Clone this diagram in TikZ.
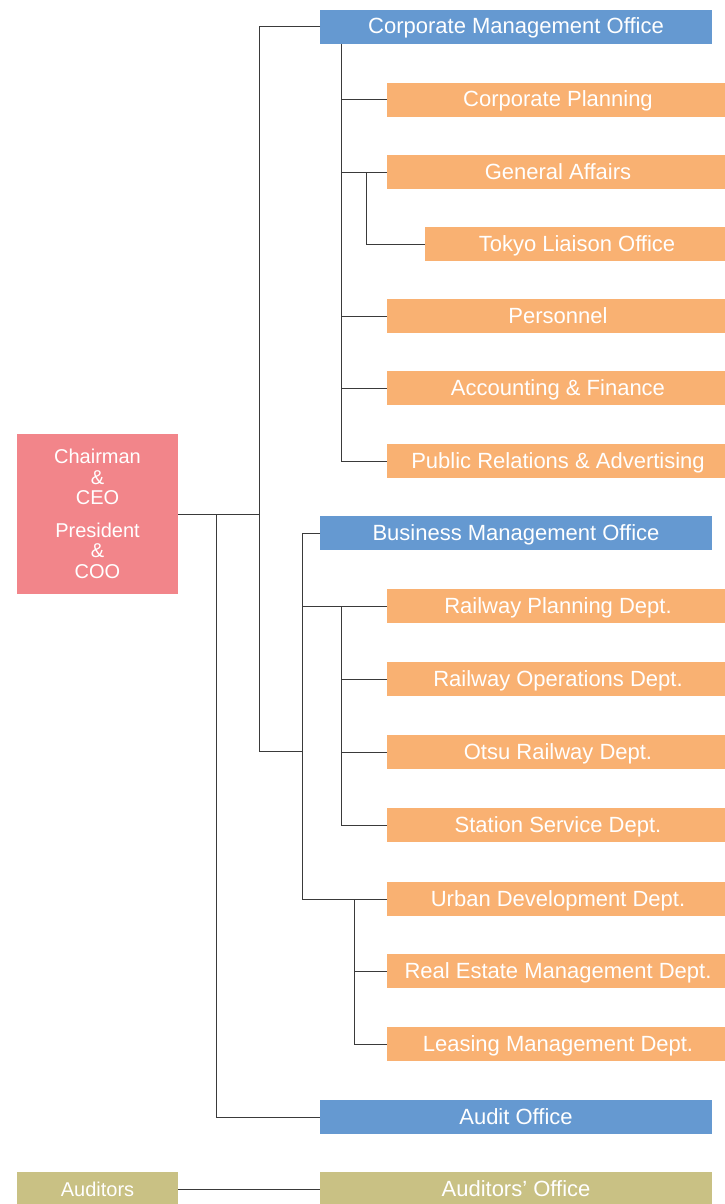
\documentclass[tikz,border=0pt]{standalone}
\usepackage{fontspec}
\setmainfont{Liberation Sans}
\definecolor{officeblue}{HTML}{6599D1}
\definecolor{deptorange}{HTML}{F9B172}
\definecolor{headpink}{HTML}{F2858A}
\definecolor{auditolive}{HTML}{C9C184}
\definecolor{linegray}{HTML}{3A3A3A}
\tikzset{
  office/.style={fill=officeblue, text=white, inner sep=0pt, outer sep=0pt,
    minimum width=392pt, minimum height=34pt, text height=16pt, text depth=2pt,
    font=\fontsize{22}{26}\selectfont},
  dept/.style={office, fill=deptorange, minimum width=342pt},
  subdept/.style={dept, minimum width=304pt},
  audit/.style={office, fill=auditolive},
  link/.style={draw=linegray, line width=1pt}
}
\begin{document}
\begin{tikzpicture}[x=1pt,y=-1pt]
		    	\useasboundingbox (0,0) rectangle (725,1204);
		    	\node[fill=headpink, text=white, inner sep=0pt, minimum width=161pt, minimum height=160pt, align=center, font=\fontsize{20}{20.5}\selectfont] (CH) at (97.5,514) {Chairman\\\&\\CEO\\[12pt]President\\\&\\COO};
		    	\node[audit, minimum width=161pt, font=\fontsize{20}{24}\selectfont] (AU) at (97.5,1189) {Auditors};
		    	
		    	\node[office] (CMO) at (516,27) {Corporate Management Office};
		    	\node[dept] (CP) at (558,100) {Corporate Planning};
		    	\node[dept] (GA) at (558,172) {General Affairs};
		    	\node[subdept] (TL) at (577,244) {Tokyo Liaison Office};
		    	\node[dept] (PE) at (558,316) {Personnel};
		    	\node[dept] (AF) at (558,388) {Accounting \& Finance};
		    	\node[dept] (PR) at (558,461) {Public Relations \& Advertising};
		    	
		    	\node[office] (BMO) at (516,533) {Business Management Office};
		    	\node[dept] (RP) at (558,606) {Railway Planning Dept.};
		    	\node[dept] (RO) at (558,679) {Railway Operations Dept.};
		    	\node[dept] (OR) at (558,752) {Otsu Railway Dept.};
		    	\node[dept] (SS) at (558,825) {Station Service Dept.};
		    	\node[dept] (UD) at (558,899) {Urban Development Dept.};
		    	\node[dept] (RE) at (558,971) {Real Estate Management Dept.};
		    	\node[dept] (LM) at (558,1044) {Leasing Management Dept.};
		    	
		    	\node[office] (AO) at (516,1117) {Audit Office};
		    	\node[audit] (AUO) at (516,1189) {Auditors' Office};
		    	
		    	% junctions
		    	\coordinate (J1) at (259,514);
		    	\coordinate (J2) at (259,751);
		    	\coordinate (J3) at (302,751);
		    	\coordinate (JA) at (216,514);
		    	\coordinate (C0) at (341,44);
		    	\coordinate (G0) at (366,172);
		    	\coordinate (B0) at (302,606);
		    	\coordinate (B1) at (341,606);
		    	\coordinate (U0) at (302,899);
		    	\coordinate (U1) at (354,899);
		    	
		    	\draw[link] (CH.east)--(J1);
		    	\draw[link] (CMO.west) -| (J2)--(J3);
		    	\draw[link] (JA) |- (AO.west);
		    	\draw[link] (C0) |- (PR.west);
		    	\draw[link] (C0 |- CP.west)--(CP.west);
		    	\draw[link] (C0 |- GA.west)--(GA.west);
		    	\draw[link] (G0) |- (TL.west);
		    	\draw[link] (C0 |- PE.west)--(PE.west);
		    	\draw[link] (C0 |- AF.west)--(AF.west);
		    	\draw[link] (BMO.west) -| (U0)--(UD.west);
		    	\draw[link] (B0)--(RP.west);
		    	\draw[link] (B1) |- (SS.west);
		    	\draw[link] (B1 |- RO.west)--(RO.west);
		    	\draw[link] (B1 |- OR.west)--(OR.west);
		    	\draw[link] (U1) |- (LM.west);
		    	\draw[link] (U1 |- RE.west)--(RE.west);
		    	\draw[link] (AU)--(AUO);
		    \end{tikzpicture}
\end{document}
